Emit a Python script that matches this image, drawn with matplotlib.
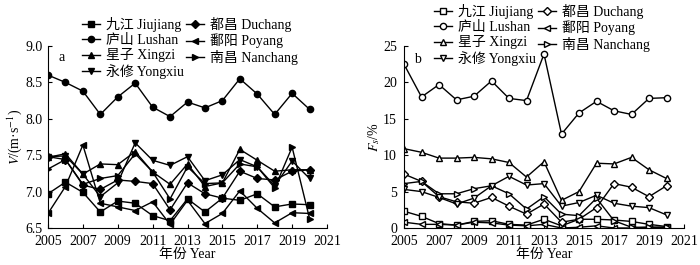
import numpy as np
import matplotlib
matplotlib.use('Agg')
from matplotlib import pyplot as plt

plt.rcParams['font.family'] = ['Liberation Serif', 'Noto Sans CJK SC']
plt.rcParams['mathtext.fontset'] = 'stix'
plt.rcParams['font.size'] = 10

#Data
years = list(range(2005, 2021))
names = ['九江 Jiujiang', '都昌 Duchang', '庐山 Lushan', '鄱阳 Poyang',
         '星子 Xingzi', '南昌 Nanchang', '永修 Yongxiu']

#Wind speed V (m/s)
V_Jiujiang = [6.97, 7.13, 6.99, 6.72, 6.87, 6.84, 6.67, 6.60, 6.90, 6.72, 6.91, 6.88, 6.97, 6.79, 6.83, 6.82]
V_Duchang = [7.48, 7.44, 7.09, 7.03, 7.16, 7.14, 7.11, 6.75, 7.12, 6.97, 6.91, 7.28, 7.18, 7.16, 7.28, 7.30]
V_Lushan = [8.60, 8.50, 8.38, 8.06, 8.30, 8.49, 8.16, 8.03, 8.23, 8.15, 8.25, 8.55, 8.34, 8.06, 8.35, 8.13]
V_Poyang = [6.70, 7.07, 7.64, 6.84, 6.79, 6.74, 6.86, 6.55, 6.88, 6.56, 6.70, 7.01, 6.77, 6.57, 6.71, 6.70]
V_Xingzi = [7.47, 7.52, 7.24, 7.38, 7.37, 7.55, 7.27, 7.10, 7.38, 7.07, 7.12, 7.58, 7.43, 7.28, 7.30, 7.30]
V_Nanchang = [7.31, 7.44, 7.10, 7.18, 7.22, 7.52, 7.27, 6.90, 7.34, 7.11, 7.12, 7.38, 7.34, 7.05, 7.61, 6.63]
V_Yongxiu = [7.48, 7.49, 7.24, 6.93, 7.12, 7.67, 7.43, 7.36, 7.48, 7.15, 7.23, 7.44, 7.34, 7.08, 7.42, 7.18]

#Frequency Fs (%)
F_Jiujiang = [2.3, 1.6, 0.6, 0.4, 0.9, 1.0, 0.5, 0.4, 1.2, 0.3, 1.2, 1.2, 1.1, 0.9, 0.5, 0.2]
F_Duchang = [7.4, 6.4, 4.3, 3.6, 3.4, 4.2, 3.0, 1.9, 3.3, 0.8, 1.2, 2.8, 6.1, 5.6, 4.3, 5.8]
F_Lushan = [22.5, 18.0, 19.7, 17.6, 18.1, 20.2, 17.8, 17.5, 23.9, 12.9, 15.8, 17.4, 16.1, 15.6, 17.8, 17.9]
F_Poyang = [0.8, 0.5, 0.5, 0.4, 0.8, 0.7, 0.4, 0.3, 0.5, 0.0, 0.1, 0.3, 0.0, 0.0, 0.1, 0.1]
F_Xingzi = [10.9, 10.4, 9.6, 9.6, 9.7, 9.5, 9.0, 7.0, 9.1, 3.8, 5.0, 8.9, 8.8, 9.7, 8.0, 6.8]
F_Nanchang = [6.1, 6.4, 4.7, 4.7, 5.4, 5.8, 4.7, 2.6, 4.3, 1.9, 1.7, 4.1, 1.0, 0.1, 0.1, 0.1]
F_Yongxiu = [5.3, 5.0, 4.2, 3.3, 4.1, 5.8, 7.1, 5.9, 6.1, 3.0, 3.5, 4.5, 3.4, 3.0, 2.8, 1.8]

V_all = [V_Jiujiang, V_Duchang, V_Lushan, V_Poyang, V_Xingzi, V_Nanchang, V_Yongxiu]
F_all = [F_Jiujiang, F_Duchang, F_Lushan, F_Poyang, F_Xingzi, F_Nanchang, F_Yongxiu]
markers = ['s', 'D', 'o', '<', '^', '>', 'v']
msizes = [4.5, 4, 4.5, 5, 5, 5, 5]
#legend fills column by column: put rows in the order of the reference
leg_order = [0, 2, 4, 6, 1, 3, 5]

fig = plt.figure(figsize=(7, 2.65), dpi=100)
ax1 = fig.add_axes([48/700, 1-228/265, 279/700, 182/265])
ax2 = fig.add_axes([404/700, 1-228/265, 280/700, 182/265])

def style(ax, ypad):
    ax.spines['top'].set_visible(False)
    ax.spines['right'].set_visible(False)
    ax.tick_params(direction='in', length=3, width=0.8, labelsize=10)
    ax.tick_params(axis='x', pad=5)
    ax.tick_params(axis='y', pad=ypad)
    ax.set_xlim(2005, 2021)
    ax.set_xticks(range(2005, 2022, 2))
    ax.set_xlabel('年份 Year', fontsize=10, labelpad=0)

def legend(ax, x, y):
    h, l = ax.get_legend_handles_labels()
    ax.legend([h[i] for i in leg_order], [l[i] for i in leg_order],
              loc='upper left', bbox_to_anchor=(x/700, 1-y/265), bbox_transform=fig.transFigure,
              ncol=2, frameon=False, borderpad=0, borderaxespad=0, handlelength=1.3,
              handletextpad=0.4, labelspacing=0.12, columnspacing=0.2, fontsize=10)

#Panel a
for v, m, ms, n in zip(V_all, markers, msizes, names):
    ax1.plot(years, v, color='black', lw=1, marker=m, ms=ms, mfc='black', mec='black', label=n)
style(ax1, 4)
ax1.set_ylim(6.5, 9.0)
ax1.set_yticks(np.arange(6.5, 9.01, 0.5))
ax1.set_yticklabels(['%.1f' % t for t in np.arange(6.5, 9.01, 0.5)])
ax1.set_ylabel('$V$/(m·s$^{-1}$)', labelpad=1)
ax1.text(2005.6, 8.8, 'a', fontsize=10)
legend(ax1, 82, 17)

#Panel b
for f, m, ms, n in zip(F_all, markers, msizes, names):
    ax2.plot(years, f, color='black', lw=1, marker=m, ms=ms, mfc='white', mec='black', label=n)
style(ax2, 5)
ax2.set_ylim(0, 25)
ax2.set_yticks(range(0, 26, 5))
ax2.set_ylabel('$F_s$/%', labelpad=1)
ax2.text(2005.6, 22.7, 'b', fontsize=10)
legend(ax2, 434, 4)

plt.savefig('out.png', dpi=100)
